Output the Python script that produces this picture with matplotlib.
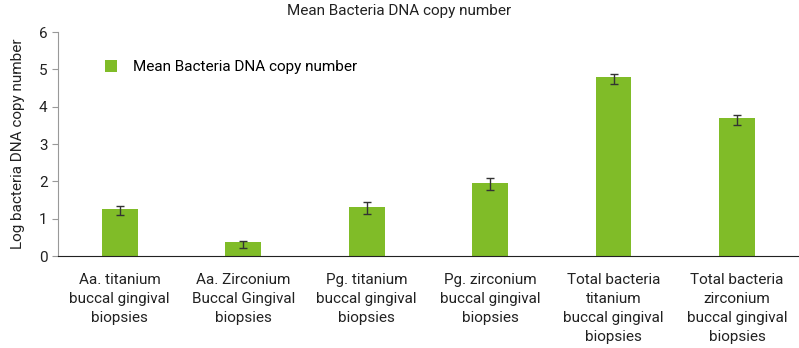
import matplotlib.pyplot as plt
import numpy as np

plt.rcParams["font.family"] = ["Roboto", "DejaVu Sans"]

categories = [
    "Aa. titanium\nbuccal gingival\nbiopsies",
    "Aa. Zirconium\nBuccal Gingival\nbiopsies",
    "Pg. titanium\nbuccal gingival\nbiopsies",
    "Pg. zirconium\nbuccal gingival\nbiopsies",
    "Total bacteria\ntitanium\nbuccal gingival\nbiopsies",
    "Total bacteria\nzirconium\nbuccal gingival\nbiopsies",
]
bar_tops = [1.26, 0.38, 1.32, 1.96, 4.80, 3.70]
err_centers = [1.22, 0.32, 1.28, 1.93, 4.74, 3.65]
err_sizes = [0.13, 0.09, 0.16, 0.15, 0.13, 0.13]

fig = plt.figure(figsize=(7.99, 3.48), dpi=100)
ax = fig.add_axes([0.0726, 0.264, 0.927, 0.644])

x = np.arange(len(categories))
ax.bar(x, bar_tops, width=0.29, color="#80bc28", label="Mean Bacteria DNA copy number")
ax.errorbar(x, err_centers, yerr=err_sizes, fmt="none", ecolor="#333333",
            elinewidth=1, capsize=3, capthick=1)

ax.set_xlim(-0.5, len(categories) - 0.5)
ax.set_ylim(0, 6)
ax.set_yticks(range(7))
ax.set_xticks(x)
ax.set_xticklabels(categories, fontsize=11, color="#222222", linespacing=1.45,
                   multialignment="center")
ax.tick_params(axis="x", length=0, pad=12)
ax.tick_params(axis="y", labelsize=11, labelcolor="#222222", length=4, color="#999999")
for s in ("top", "right"):
    ax.spines[s].set_visible(False)
ax.spines["left"].set_color("#999999")
ax.spines["bottom"].set_color("#222222")
ax.set_ylabel("Log bacteria DNA copy number", fontsize=11, color="#222222", labelpad=10)

ax.set_title("Mean Bacteria DNA copy number", fontsize=11, color="#222222", pad=12,
             x=0.461)
ax.legend(loc="upper left", bbox_to_anchor=(0.045, 0.935), frameon=False, fontsize=11,
          handlelength=0.8, handleheight=0.8, handletextpad=1.0)

fig.savefig("out.png", dpi=100)
